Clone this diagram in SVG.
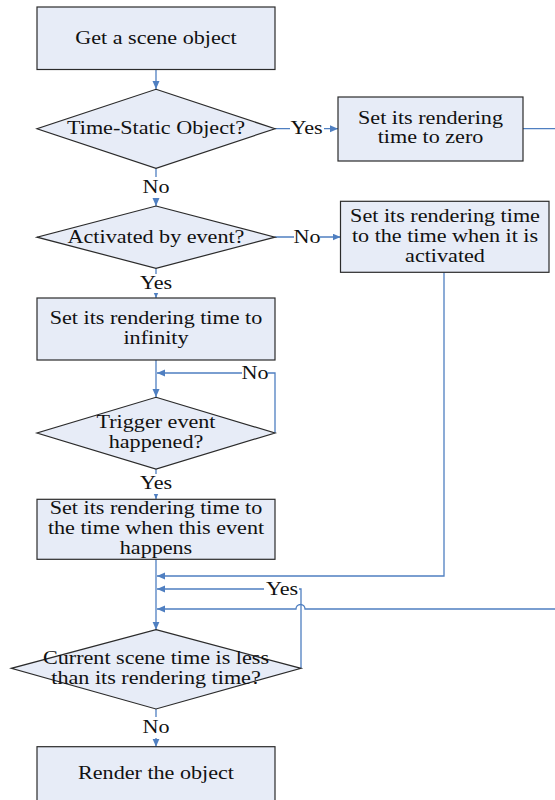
<svg xmlns="http://www.w3.org/2000/svg" width="555" height="800" viewBox="0 0 555 800">
<style>
.shape{fill:#E7ECF7;stroke:#2b2b2b;stroke-width:1.2}
.conn{fill:none;stroke:#4F7FC1;stroke-width:1.3}
.lbg{fill:#ffffff;stroke:none}
text{font-family:"Liberation Serif","Times New Roman",serif;font-size:18px;fill:#111;text-anchor:middle}
</style>
<defs>
<marker id="arr" markerUnits="userSpaceOnUse" markerWidth="9" markerHeight="8" refX="8" refY="3.5" orient="auto">
<path d="M0,0 L8,3.5 L0,7 z" fill="#4F7FC1"/>
</marker>
</defs>
<rect width="555" height="800" fill="#ffffff"/>

<g id="connectors">
<path class="conn" d="M156 70 V89" marker-end="url(#arr)"/>
<path class="conn" d="M275 128.7 H338" marker-end="url(#arr)"/>
<path class="conn" d="M523 128.7 H600 V609 H305 A4.5 4.5 0 0 0 296 609 H157" marker-end="url(#arr)"/>
<path class="conn" d="M156 168 V206" marker-end="url(#arr)"/>
<path class="conn" d="M275 237 H340.5" marker-end="url(#arr)"/>
<path class="conn" d="M444 272.3 V576 H157" marker-end="url(#arr)"/>
<path class="conn" d="M156 268 V298" marker-end="url(#arr)"/>
<path class="conn" d="M156 360 V397" marker-end="url(#arr)"/>
<path class="conn" d="M275 433 V373 H157" marker-end="url(#arr)"/>
<path class="conn" d="M156 469 V499" marker-end="url(#arr)"/>
<path class="conn" d="M156 559.3 V629.7" marker-end="url(#arr)"/>
<path class="conn" d="M301 668.3 V589 H157" marker-end="url(#arr)"/>
<path class="conn" d="M156 709 V746.7" marker-end="url(#arr)"/>
<g id="conn-labels">
<rect class="lbg" x="290" y="121" width="34" height="16"/>
<text transform="translate(306.6 134) scale(1.23 1)">Yes</text>
<rect class="lbg" x="142" y="177" width="28" height="21"/>
<text transform="translate(156 193) scale(1.23 1)">No</text>
<rect class="lbg" x="294" y="229" width="26" height="16"/>
<text transform="translate(307 242.5) scale(1.23 1)">No</text>
<rect class="lbg" x="139" y="274" width="34" height="19"/>
<text transform="translate(156 288.5) scale(1.23 1)">Yes</text>
<rect class="lbg" x="242" y="365" width="26" height="16"/>
<text transform="translate(255 378.5) scale(1.23 1)">No</text>
<rect class="lbg" x="139" y="474" width="34" height="20"/>
<text transform="translate(156 488.5) scale(1.23 1)">Yes</text>
<rect class="lbg" x="264" y="581" width="35" height="16"/>
<text transform="translate(282 594.5) scale(1.23 1)">Yes</text>
<rect class="lbg" x="142" y="717" width="28" height="21"/>
<text transform="translate(156 732.5) scale(1.23 1)">No</text>
</g>
</g>

<g id="n1">
<rect class="shape" x="37" y="7" width="238" height="62.5"/>
<text transform="translate(156 43.5) scale(1.23 1)">Get a scene object</text>
</g>
<g id="n2">
<polygon class="shape" points="156,89.3 275,128.7 156,168.3 37,128.7"/>
<text transform="translate(156 134) scale(1.23 1)">Time-Static Object?</text>
</g>
<g id="n3">
<rect class="shape" x="338" y="97" width="185" height="64"/>
<text transform="translate(430.5 0) scale(1.23 1)"><tspan x="0" y="124">Set its rendering</tspan><tspan x="0" y="143.5">time to zero</tspan></text>
</g>
<g id="n4">
<polygon class="shape" points="156,206 275,237.2 156,268.3 37,237.2"/>
<text transform="translate(156 242.5) scale(1.23 1)">Activated by event?</text>
</g>
<g id="n5">
<rect class="shape" x="340.5" y="201.3" width="208.5" height="71"/>
<text transform="translate(445 0) scale(1.23 1)"><tspan x="0" y="222">Set its rendering time</tspan><tspan x="0" y="242">to the time when it is</tspan><tspan x="0" y="262">activated</tspan></text>
</g>
<g id="n6">
<rect class="shape" x="37" y="298" width="238" height="62"/>
<text transform="translate(156 0) scale(1.23 1)"><tspan x="0" y="324.5">Set its rendering time to</tspan><tspan x="0" y="344">infinity</tspan></text>
</g>
<g id="n7">
<polygon class="shape" points="156,397.3 275,433 156,469 37,433"/>
<text transform="translate(156 0) scale(1.23 1)"><tspan x="0" y="428">Trigger event</tspan><tspan x="0" y="448">happened?</tspan></text>
</g>
<g id="n8">
<rect class="shape" x="37" y="499.3" width="238" height="60"/>
<text transform="translate(156 0) scale(1.23 1)"><tspan x="0" y="514">Set its rendering time to</tspan><tspan x="0" y="534">the time when this event</tspan><tspan x="0" y="554">happens</tspan></text>
</g>
<g id="n9">
<polygon class="shape" points="156,629.7 301,668.3 156,709 11.3,668.3"/>
<text transform="translate(156 0) scale(1.23 1)"><tspan x="0" y="664">Current scene time is less</tspan><tspan x="0" y="684">than its rendering time?</tspan></text>
</g>
<g id="n10">
<rect class="shape" x="37" y="746.7" width="238" height="80"/>
<text transform="translate(156 778.5) scale(1.23 1)">Render the object</text>
</g>
</svg>
